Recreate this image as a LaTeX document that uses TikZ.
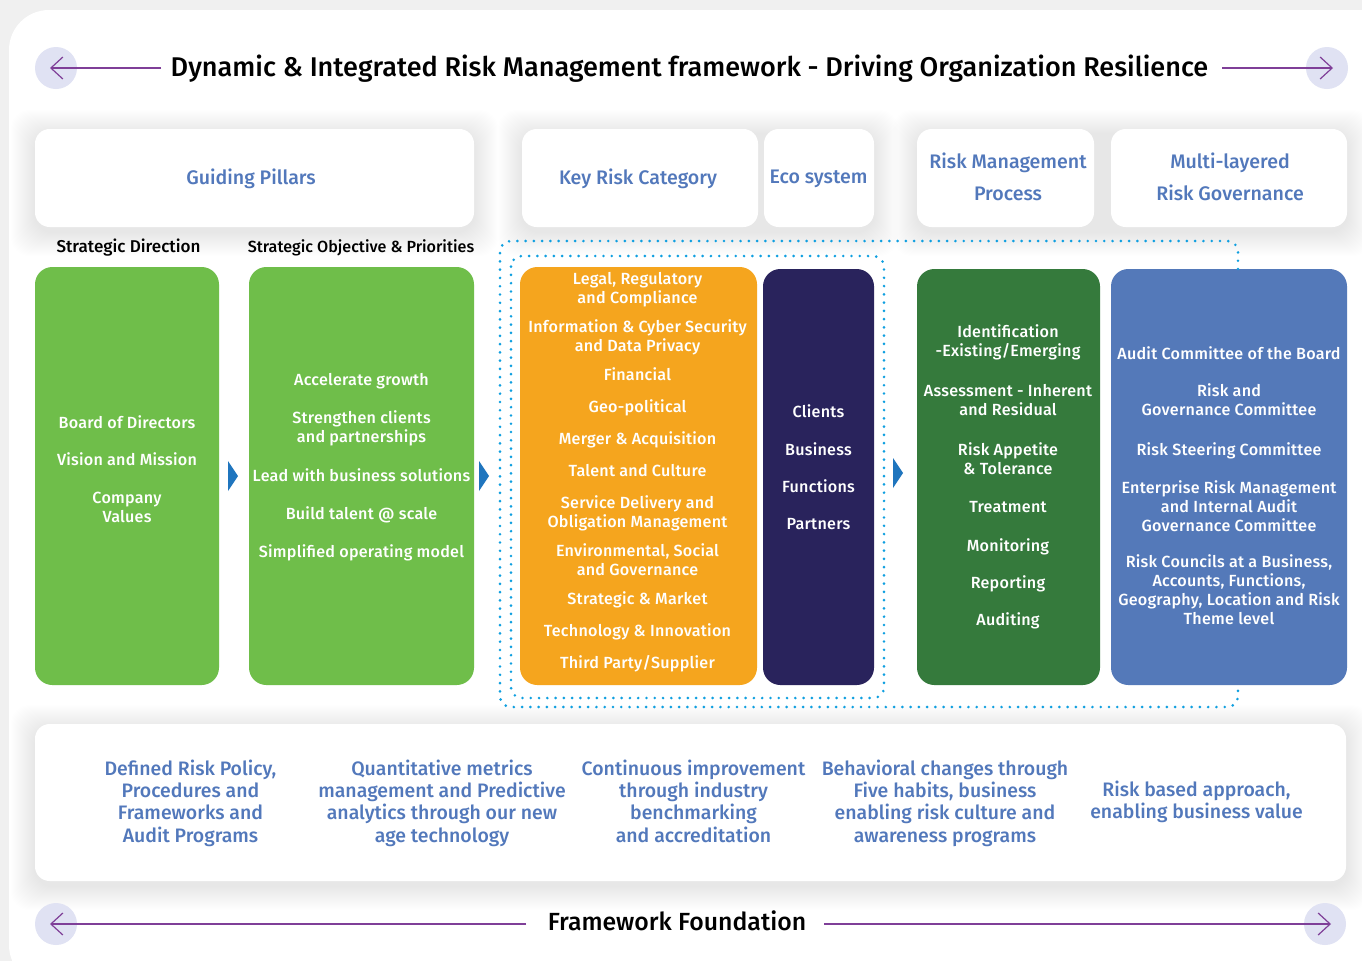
\documentclass[tikz,border=0pt]{standalone}
\usepackage{fontspec}
\setmainfont{Fira Sans}[BoldFont={Fira Sans Medium}]
\newfontfamily\widefam{Fira Sans Medium}[LetterSpace=1.5]
\usepackage{xcolor}
\usetikzlibrary{arrows.meta}

\definecolor{panelgray}{HTML}{F0F0F0}
\definecolor{headblue}{HTML}{5278BB}
\definecolor{leafgreen}{HTML}{6FBE4A}
\definecolor{amber}{HTML}{F5A51E}
\definecolor{navy}{HTML}{29235C}
\definecolor{forest}{HTML}{357A3C}
\definecolor{slateblue}{HTML}{5479B9}
\definecolor{dotblue}{HTML}{0F9FE0}
\definecolor{plum}{HTML}{7F3F98}
\definecolor{discblue}{HTML}{E0E2F3}
\definecolor{wedgeblue}{HTML}{1F75BE}

\newcommand{\softshade}[4]{
\foreach \r in {1,2,...,24}{
\fill[black,opacity=0.0035,rounded corners=14pt] (#1-\r,#2-\r+5) rectangle (#3+\r,#4+\r+5);
}
}

\tikzset{
headtxt/.style={text=headblue,align=center,font=\fontsize{14.7}{24}\selectfont\bfseries},
basetxt/.style={text=headblue,align=center,font=\fontsize{14.6}{16.8}\selectfont\bfseries},
bodytxt/.style={text=white,align=center,inner sep=0pt,font=\fontsize{12.1}{14.25}\selectfont\widefam},
subtxt/.style={text=black,inner sep=0pt,font=\fontsize{12.1}{14}\selectfont\bfseries},
bigtxt/.style={text=black,inner sep=0pt,font=\fontsize{20.3}{24}\selectfont\bfseries},
whitebox/.style={fill=white,rounded corners=11pt},
colbox/.style={rounded corners=13pt},
disc/.style={circle,fill=discblue,minimum size=31.5pt,inner sep=0pt},
longarrow/.style={draw=plum,line width=0.9pt,-{Straight Barb[length=9pt,width=16.5pt]}},
dotline/.style={draw=dotblue,line width=2.2pt,line cap=round,dash pattern=on 0pt off 6.2pt,rounded corners=8pt}
}

\begin{document}
\begin{tikzpicture}[x=0.75pt,y=-0.75pt]
\clip (0,0) rectangle (1362,961);
\fill[panelgray] (0,0) rectangle (1362,961);
\fill[white,rounded corners=30pt] (9,10) rectangle (1400,985);

\softshade{35}{129}{474}{227}
\softshade{522}{129}{874}{227}
\softshade{917}{129}{1347}{227}
\softshade{35}{724}{1346}{881}

\fill[whitebox] (35,129) rectangle (474,227);
\fill[whitebox] (522,129) rectangle (758,227);
\fill[whitebox] (764,129) rectangle (874,227);
\fill[whitebox] (917,129) rectangle (1094,227);
\fill[whitebox] (1111,129) rectangle (1347,227);
\fill[whitebox] (35,724) rectangle (1346,881);

\fill[colbox,leafgreen] (35,267) rectangle (219,685);
\fill[colbox,leafgreen] (249,267) rectangle (474,685);
\fill[colbox,amber] (520,267) rectangle (757,685);
\fill[colbox,navy] (763,269) rectangle (874,685);
\fill[colbox,forest] (917,269) rectangle (1100,685);
\fill[colbox,slateblue] (1111,269) rectangle (1347,685);

\draw[dotline] (1238,269) -- (1238,241) -- (500,241) -- (500,707) -- (1238,707) -- (1238,685);
\draw[dotline] (511,256) rectangle (884,698);

\foreach \x/\y in {228/461,479/461,893/458}
\fill[wedgeblue] (\x,\y) -- (\x+10,\y+15) -- (\x,\y+30) -- cycle;

\node[disc] (leftup) at (56,68) {};
\node[disc] (rightup) at (1327,68) {};
\node[disc] (leftdown) at (56,924) {};
\node[disc] (rightdown) at (1325,924) {};

\node[bigtxt] (title) at (689.5,69) {Dynamic \& Integrated Risk Management framework - Driving Organization Resilience};
\node[bigtxt,font=\fontsize{18.6}{24}\selectfont\bfseries] (foundation) at (677,920.5) {Framework Foundation};
\coordinate (titleL) at (161,68);
\coordinate (titleR) at (1222,68);
\coordinate (tipLU) at (50,68);
\coordinate (tipRU) at (1333,68);
\coordinate (footL) at (526,924);
\coordinate (footR) at (824,924);
\coordinate (tipLD) at (50,924);
\coordinate (tipRD) at (1331,924);
\draw[longarrow] (titleL) -- (tipLU);
\draw[longarrow] (titleR) -- (tipRU);
\draw[longarrow] (footL) -- (tipLD);
\draw[longarrow] (footR) -- (tipRD);

\node[headtxt] (pillars) at (251,179) {Guiding Pillars};
\node[headtxt] (keyrisk) at (638,179) {Key Risk Category};
\node[headtxt] (ecosys) at (818.5,179) {Eco system};
\node[headtxt] (process) at (1008,177) {Risk Management\\Process};
\node[headtxt] (multi) at (1230,177) {Multi-layered\\Risk Governance};

\node[subtxt,font=\fontsize{12.8}{14}\selectfont\bfseries] (direction) at (128.5,248) {Strategic Direction};
\node[subtxt] (objective) at (361,248) {Strategic Objective \& Priorities};

\foreach \y/\txt [count=\i] in {422/{Board of Directors},459/{Vision and Mission},507/{Company\\Values}}
\node[bodytxt] (board\i) at (127,\y) {\txt};

\foreach \y/\txt [count=\i] in {381/{Accelerate growth},428/{Strengthen clients\\and partnerships},475/{Lead with business solutions},515/{Build talent @ scale},553/{Simplified operating model}}
\node[bodytxt] (goal\i) at (361.5,\y) {\txt};

\foreach \y/\txt [count=\i] in {290/{Legal, Regulatory\\and Compliance},337/{Information \& Cyber Security\\and Data Privacy},374/{Financial},408/{Geo-political},440/{Merger \& Acquisition},471/{Talent and Culture},513/{Service Delivery and\\Obligation Management},560/{Environmental, Social\\and Governance},600/{Strategic \& Market},632/{Technology \& Innovation},664/{Third Party/Supplier}}
\node[bodytxt] (cat\i) at (637.5,\y) {\txt};

\foreach \y/\txt [count=\i] in {411/{Clients},449/{Business},486/{Functions},524/{Partners}}
\node[bodytxt] (eco\i) at (818.5,\y) {\txt};

\foreach \y/\txt [count=\i] in {342/{Identification\\-Existing/Emerging},400/{Assessment - Inherent\\and Residual},459/{Risk Appetite\\\& Tolerance},507/{Treatment},547/{Monitoring},584/{Reporting},621/{Auditing}}
\node[bodytxt] (step\i) at (1008,\y) {\txt};

\foreach \y/\txt [count=\i] in {353/{Audit Committee of the Board},400/{Risk and\\Governance Committee},451/{Risk Steering Committee},506/{Enterprise Risk Management\\and Internal Audit\\Governance Committee},590/{Risk Councils at a Business,\\Accounts, Functions,\\Geography, Location and Risk\\Theme level}}
\node[bodytxt] (gov\i) at (1229,\y) {\txt};

\node[basetxt] (base1) at (190.5,803) {Defined Risk Policy,\\Procedures and\\Frameworks and\\Audit Programs};
\node[basetxt] (base2) at (442,803) {Quantitative metrics\\management and Predictive\\analytics through our new\\age technology};
\node[basetxt] (base3) at (693.5,801) {Continuous improvement\\through industry\\benchmarking\\and accreditation};
\node[basetxt] (base4) at (945,803) {Behavioral changes through\\Five habits, business\\enabling risk culture and\\awareness programs};
\node[basetxt] (base5) at (1196.5,802) {Risk based approach,\\enabling business value};
\end{tikzpicture}
\end{document}
